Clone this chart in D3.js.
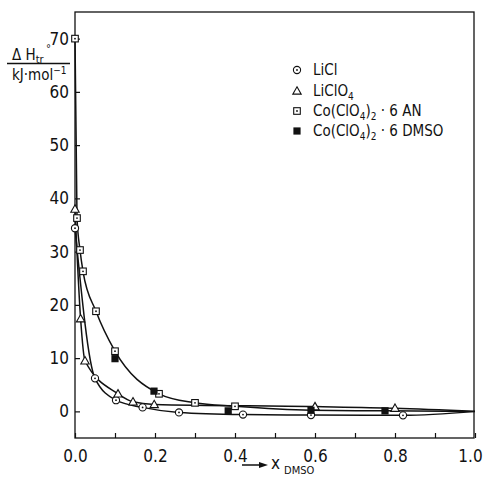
<!DOCTYPE html>
<html>
<head>
<meta charset="utf-8">
<script src="https://cdn.jsdelivr.net/npm/d3@7"></script>
<style>
body{margin:0;background:#fff;}
svg{display:block;}
text{font-family:"DejaVu Sans Condensed","DejaVu Sans",sans-serif;fill:#111;}
</style>
</head>
<body>
<svg id="c" width="484" height="481"></svg>
<script>
// ---- data (x = mole fraction DMSO, y = ΔH°tr / kJ·mol-1) ----
const xTicks = [0.0, 0.2, 0.4, 0.6, 0.8, 1.0];
const xMinorTicks = [0.1, 0.3, 0.5, 0.7, 0.9];
const yTicks = [0, 10, 20, 30, 40, 50, 60, 70];
const legendLabels = ["LiCl", "LiClO4", "Co(ClO4)2 · 6 AN", "Co(ClO4)2 · 6 DMSO"];

const liclX = [0.0, 0.05, 0.1025, 0.169, 0.26, 0.42, 0.59, 0.82];
const liclY = [34.4, 6.2, 2.1, 0.75, -0.2, -0.6, -0.7, -0.75];

const liclo4X = [0.0, 0.014, 0.025, 0.1075, 0.145, 0.198, 0.6, 0.8];
const liclo4Y = [38.0, 17.4, 9.5, 3.3, 1.8, 1.3, 0.9, 0.6];

const coAnX = [0.0, 0.005, 0.0125, 0.02, 0.0525, 0.1, 0.21, 0.3, 0.4];
const coAnY = [70.0, 36.3, 30.3, 26.3, 18.8, 11.3, 3.3, 1.6, 0.95];

const coDmsoX = [0.1, 0.1975, 0.383, 0.59, 0.775];
const coDmsoY = [9.9, 3.8, 0.1, 0.2, 0.1];

// all curves converge to the pure-DMSO end
const curveEndX = 1.0, curveEndY = 0.0;

// ---- layout ----
const svg = d3.select("#c");
const L = 75, R = 475, T = 12, B = 438;
const x = d3.scaleLinear().domain([0, 1]).range([L, R]);
const y = d3.scaleLinear().domain([-5, 75]).range([B, T]);

const ink = "#111";

// frame
svg.append("rect").attr("x", L).attr("y", T).attr("width", R - L - 1).attr("height", B - T)
  .attr("fill", "none").attr("stroke", ink).attr("stroke-width", 1.3);

// axes with inward ticks
const fmt = d3.format(".1f");
const xAxis = svg.append("g").attr("transform", `translate(0,${B})`)
  .call(d3.axisBottom(x).tickValues(xTicks.concat(xMinorTicks)).tickSizeInner(-5).tickSizeOuter(0)
    .tickFormat(d => xTicks.includes(d) ? fmt(d) : ""));
xAxis.select(".domain").remove();
xAxis.selectAll("line").attr("stroke", ink).attr("stroke-width", 1.2);
xAxis.selectAll("text").attr("font-size", 17).attr("dy", 0).attr("y", 24)
  .attr("font-family", '"DejaVu Sans Condensed","DejaVu Sans",sans-serif').attr("fill", ink)
  .attr("dx", d => d === 1 ? -5 : 0);

const yAxis = svg.append("g").attr("transform", `translate(${L},0)`)
  .call(d3.axisLeft(y).tickValues(yTicks).tickSizeInner(-5).tickSizeOuter(0).tickFormat(d3.format("d")));
yAxis.select(".domain").remove();
yAxis.selectAll("line").attr("stroke", ink).attr("stroke-width", 1.2);
yAxis.selectAll("text").attr("font-size", 17).attr("x", -6)
  .attr("font-family", '"DejaVu Sans Condensed","DejaVu Sans",sans-serif').attr("fill", ink);

// curves
const line = d3.line().x(d => x(d[0])).y(d => y(d[1])).curve(d3.curveMonotoneX);
function pts(xs, ys){ return xs.map((v, i) => [v, ys[i]]); }
const curves = [
  pts(liclX, liclY).concat([[curveEndX, curveEndY]]),
  pts(liclo4X, liclo4Y).concat([[curveEndX, curveEndY]]),
  pts(coAnX, coAnY).concat(pts(coDmsoX.slice(3), coDmsoY.slice(3))).concat([[curveEndX, curveEndY]])
];
curves.forEach(c => {
  svg.append("path").attr("d", line(c)).attr("fill", "none").attr("stroke", ink).attr("stroke-width", 1.5);
});

// markers
function marker(g, type, cx, cy){
  if (type === 0){
    g.append("circle").attr("cx", cx).attr("cy", cy).attr("r", 3.6).attr("fill", "#fff").attr("stroke", ink).attr("stroke-width", 1.1);
    g.append("circle").attr("cx", cx).attr("cy", cy).attr("r", 0.9).attr("fill", ink);
  } else if (type === 1){
    const s = 4.2;
    g.append("path").attr("d", `M${cx},${cy - s}L${cx + s},${cy + s * 0.75}L${cx - s},${cy + s * 0.75}Z`)
      .attr("fill", "#fff").attr("stroke", ink).attr("stroke-width", 1.1);
  } else if (type === 2){
    g.append("rect").attr("x", cx - 3.3).attr("y", cy - 3.3).attr("width", 6.6).attr("height", 6.6)
      .attr("fill", "#fff").attr("stroke", ink).attr("stroke-width", 1.1);
    g.append("circle").attr("cx", cx).attr("cy", cy).attr("r", 0.9).attr("fill", ink);
  } else {
    g.append("rect").attr("x", cx - 3.6).attr("y", cy - 3.6).attr("width", 7.2).attr("height", 7.2).attr("fill", ink);
  }
}
const mg = svg.append("g");
const series = [[liclX, liclY], [liclo4X, liclo4Y], [coAnX, coAnY], [coDmsoX, coDmsoY]];
series.forEach((s, k) => s[0].forEach((v, i) => marker(mg, k, x(v), y(s[1][i]))));

// legend
const lg = svg.append("g");
const legY = [70, 91, 111, 131];
legendLabels.forEach((lab, k) => {
  marker(lg, k, 297, legY[k]);
  const t = lg.append("text").attr("x", 313).attr("y", legY[k] + 5).attr("font-size", 15);
  if (lab === "LiCl"){ t.text(lab); return; }
  if (lab === "LiClO4"){
    t.append("tspan").text("LiClO");
    t.append("tspan").text("4").attr("font-size", 10).attr("dy", 4);
    return;
  }
  t.append("tspan").text("Co(ClO");
  t.append("tspan").text("4").attr("font-size", 10).attr("dy", 4);
  t.append("tspan").text(")").attr("dy", -4);
  t.append("tspan").text("2").attr("font-size", 10).attr("dy", 4);
  t.append("tspan").text(lab.endsWith("AN") ? " · 6 AN" : " · 6 DMSO").attr("dy", -4);
});

// y-axis label (fraction)
const yl = svg.append("g");
const t1 = yl.append("text").attr("x", 12).attr("y", 60).attr("font-size", 15);
t1.append("tspan").text("Δ H");
t1.append("tspan").text("tr").attr("font-size", 11).attr("dy", 3);
yl.append("text").attr("x", 46).attr("y", 52).attr("font-size", 11).text("°");
yl.append("line").attr("x1", 7).attr("x2", 70).attr("y1", 63.5).attr("y2", 63.5).attr("stroke", ink).attr("stroke-width", 1.3);
const t2 = yl.append("text").attr("x", 12).attr("y", 80).attr("font-size", 15);
t2.append("tspan").text("kJ·mol");
t2.append("tspan").text("−1").attr("font-size", 10).attr("dy", -6);

// x-axis label
const xl = svg.append("g");
xl.append("line").attr("x1", 242).attr("x2", 262).attr("y1", 465).attr("y2", 465).attr("stroke", ink).attr("stroke-width", 1.5);
xl.append("path").attr("d", "M268,465L259,462L259,468Z").attr("fill", ink);
const t3 = xl.append("text").attr("x", 271).attr("y", 469).attr("font-size", 17);
t3.append("tspan").text("x");
t3.append("tspan").text("DMSO").attr("font-size", 11).attr("dx", 4).attr("dy", 5);
</script>
</body>
</html>
